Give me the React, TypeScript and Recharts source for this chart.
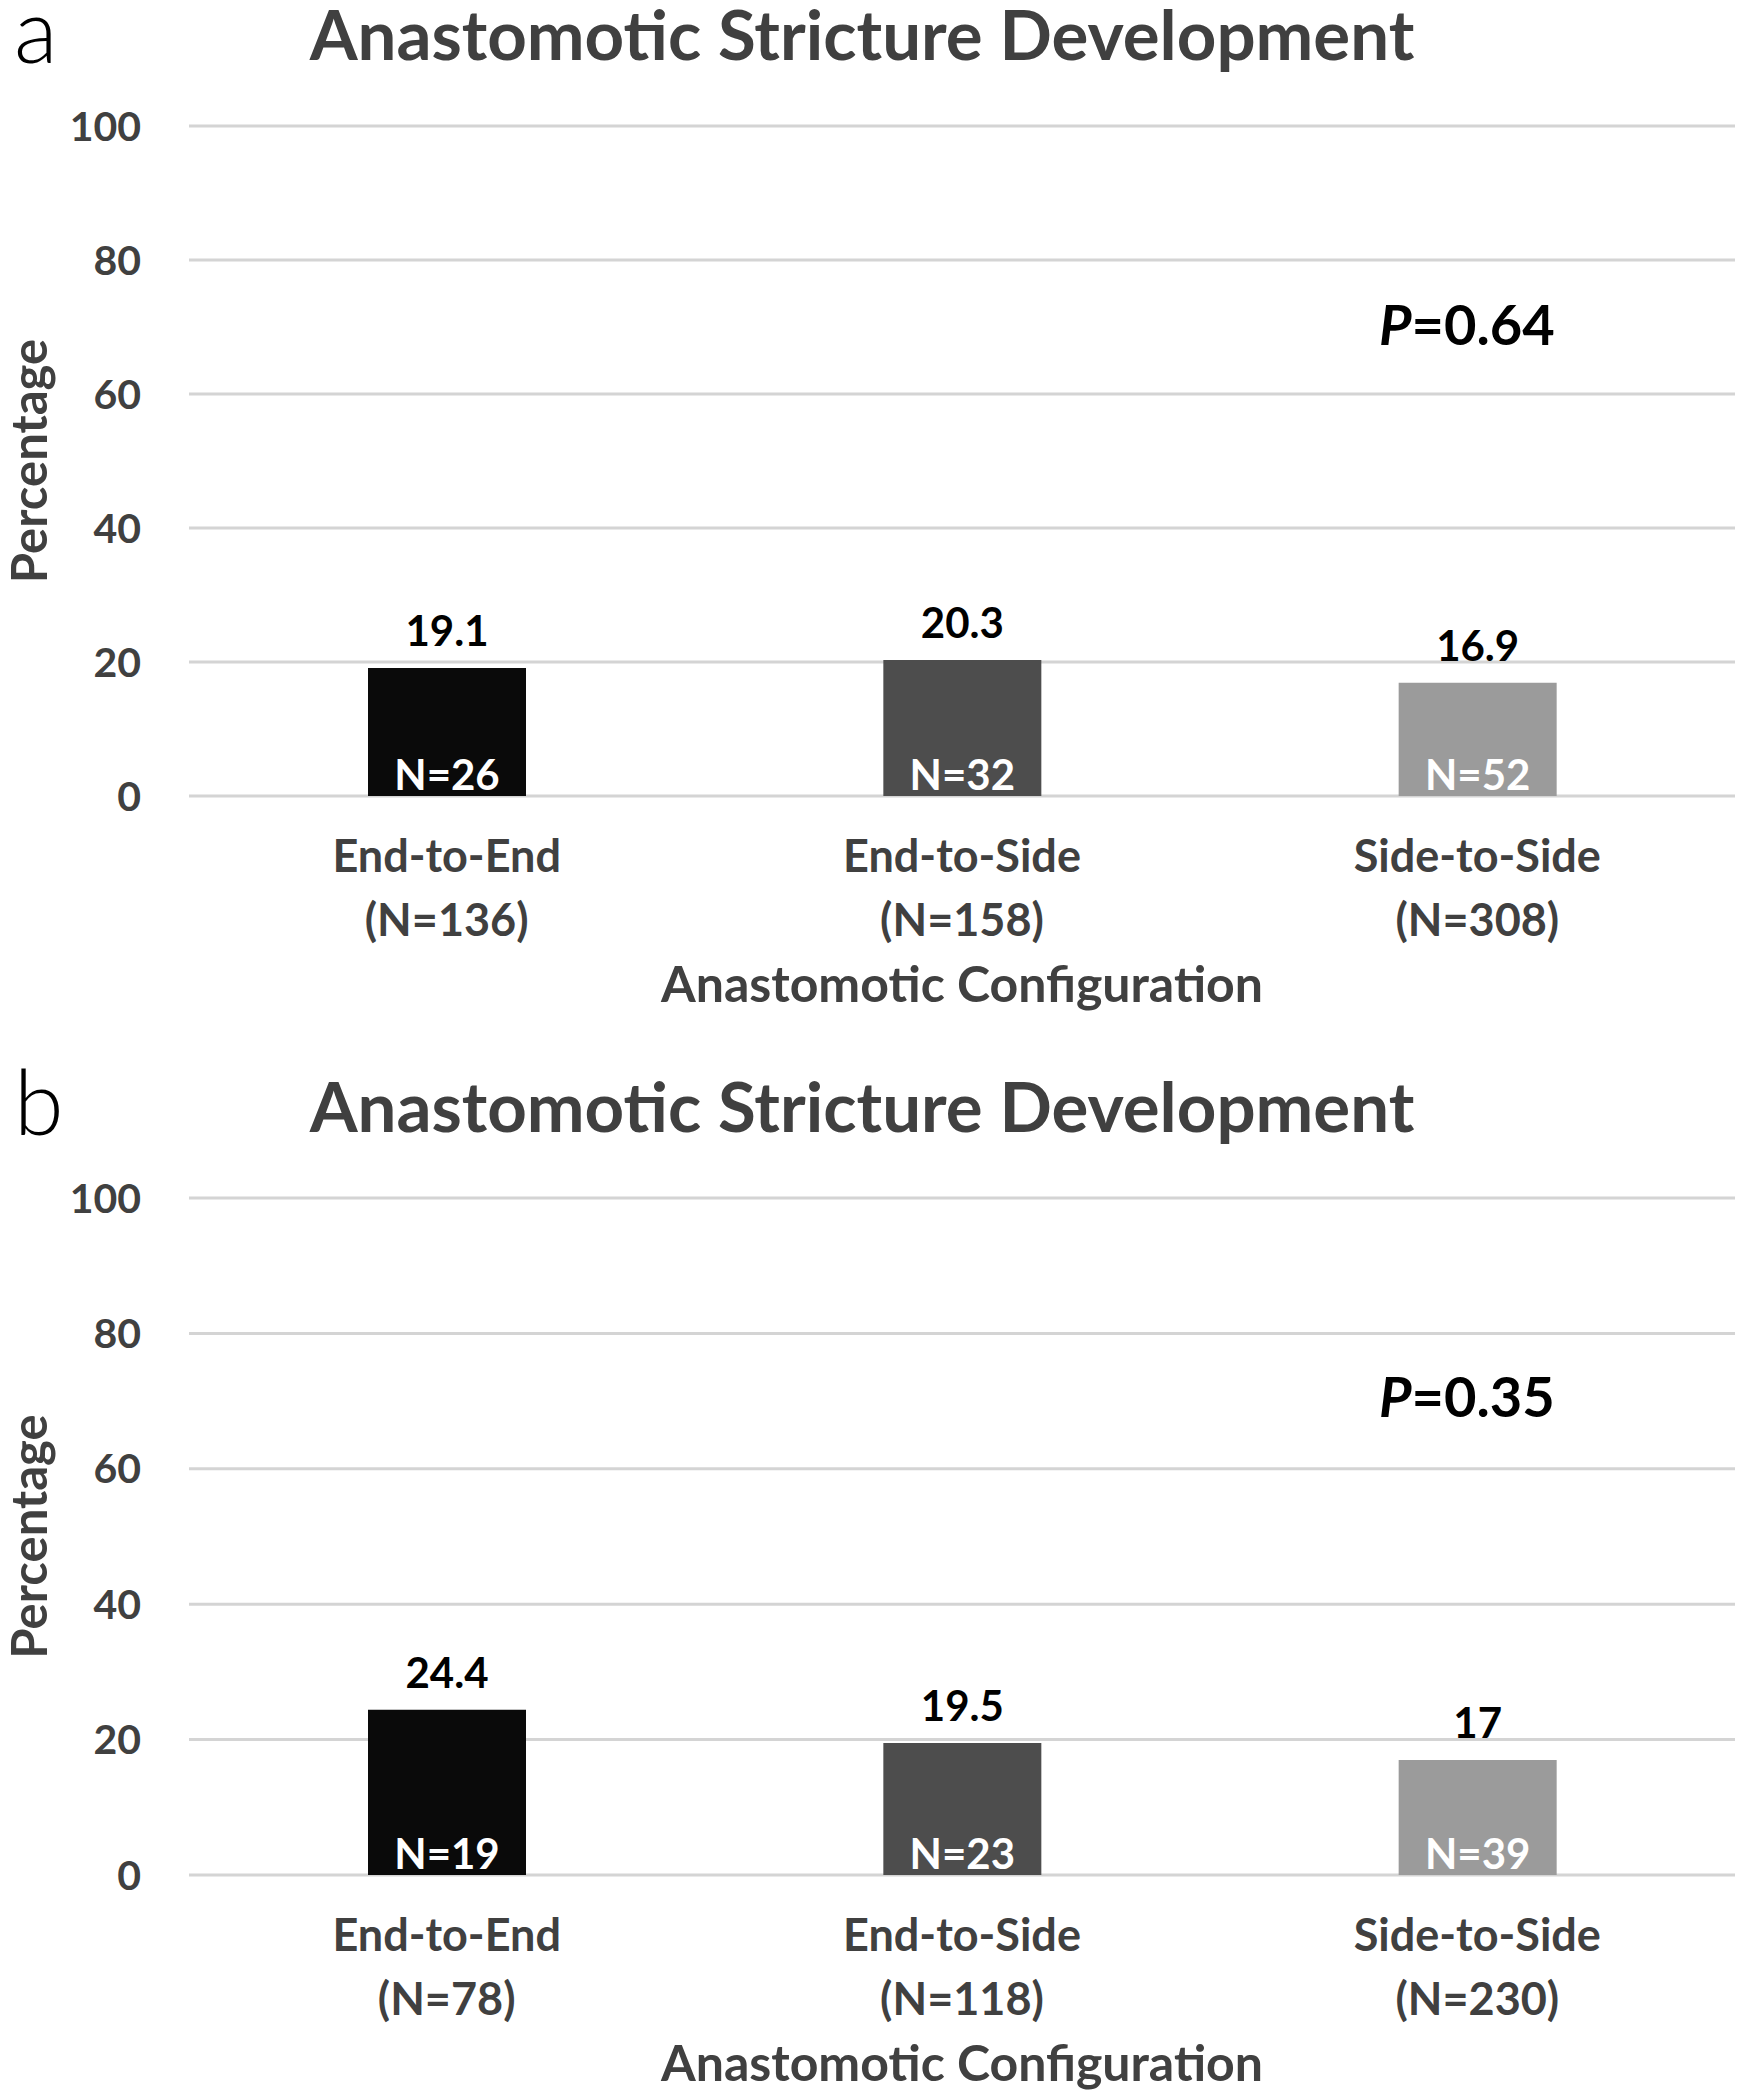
import React from 'react';
import { BarChart, Bar, XAxis, YAxis, CartesianGrid, Cell, LabelList, Label } from 'recharts';

const configurations = ['End-to-End', 'End-to-Side', 'Side-to-Side'];
const barColors = ['#0a0a0a', '#4d4d4d', '#9b9b9b'];
const yTicks = [0, 20, 40, 60, 80, 100];

// panel a
const rateA = [19.1, 20.3, 16.9];
const stricturesA = [26, 32, 52];
const totalsA = [136, 158, 308];
const pValueA = '0.64';

// panel b
const rateB = [24.4, 19.5, 17];
const stricturesB = [19, 23, 39];
const totalsB = [78, 118, 230];
const pValueB = '0.35';

const FONT = 'Lato, "Open Sans", sans-serif';
const W = 1745;
const H = 1073;
const PLOT_TOP = 126;
const HEAD = 30; // extra room above each panel for the overlay text

interface PanelProps {
  letter: string;
  rates: number[];
  strictures: number[];
  totals: number[];
  pValue: string;
  top: number;
  plotHeight: number;
}

const CategoryTick = (props: any) => {
  const { x, y, payload, totals } = props;
  const total = totals[payload.index];
  return (
    <text x={x} y={y} textAnchor="middle" fill="#404040" fontSize={45} fontWeight={700} fontFamily={FONT}>
      <tspan x={x} dy={68}>{payload.value}</tspan>
      <tspan x={x} dy={64}>{`(N=${total})`}</tspan>
    </text>
  );
};

const Panel: React.FC<PanelProps> = ({ letter, rates, strictures, totals, pValue, top, plotHeight }) => {
  const data = configurations.map((name, i) => ({
    name,
    rate: rates[i],
    n: strictures[i],
  }));
  const xAxisHeight = H - PLOT_TOP - plotHeight;

  return (
    <div style={{ position: 'absolute', left: 0, top, width: W, height: H }}>
      <BarChart width={W} height={H} data={data} margin={{ top: PLOT_TOP, right: 10, left: 0, bottom: 0 }}>
        <CartesianGrid vertical={false} stroke="#d4d4d4" strokeWidth={3} />
        <XAxis
          dataKey="name"
          height={xAxisHeight}
          axisLine={false}
          tickLine={false}
          interval={0}
          tick={<CategoryTick totals={totals} />}
        >
          <Label
            value="Anastomotic Configuration"
            position="insideBottom"
            offset={xAxisHeight - 206}
            style={{ fill: '#404040', fontSize: 50, fontWeight: 700, fontFamily: FONT }}
          />
        </XAxis>
        <YAxis
          width={189}
          domain={[0, 100]}
          ticks={yTicks}
          axisLine={false}
          tickLine={false}
          tickMargin={42}
          tick={{ fill: '#404040', fontSize: 41, fontWeight: 700, fontFamily: FONT }}
        >
          <Label
            value="Percentage"
            angle={-90}
            position="insideLeft"
            offset={30}
            style={{ textAnchor: 'middle', fill: '#404040', fontSize: 49, fontWeight: 700, fontFamily: FONT }}
          />
        </YAxis>
        <Bar dataKey="rate" barSize={158} isAnimationActive={false}>
          {data.map((d, i) => (
            <Cell key={d.name} fill={barColors[i]} />
          ))}
          <LabelList
            dataKey="rate"
            position="top"
            offset={22}
            fill="#000"
            fontSize={42}
            fontWeight={700}
            fontFamily={FONT}
          />
          <LabelList
            dataKey="n"
            position="insideBottom"
            offset={6}
            formatter={(v: any) => `N=${v}`}
            fill="#fff"
            fontSize={42}
            fontWeight={700}
            fontFamily={FONT}
          />
        </Bar>
      </BarChart>
      <svg
        width={W}
        height={H}
        style={{ position: 'absolute', left: 0, top: 0, overflow: 'visible', pointerEvents: 'none' }}
      >
        <text x={14} y={63} fontSize={90} fontWeight={300} fontFamily={FONT} fill="#000">
          {letter}
        </text>
        <text x={862} y={60} textAnchor="middle" fontSize={69} fontWeight={700} fontFamily={FONT} fill="#404040">
          Anastomotic Stricture Development
        </text>
        <text x={1379} y={345} fontSize={56} fontWeight={700} fontFamily={FONT} fill="#000">
          <tspan fontStyle="italic">P</tspan>
          <tspan>{`=${pValue}`}</tspan>
        </text>
      </svg>
    </div>
  );
};

export default function App() {
  return (
    <div
      style={{
        position: 'absolute',
        left: 0,
        top: 0,
        width: W,
        height: 2100,
        overflow: 'hidden',
        background: '#fff',
      }}
    >
      <Panel letter="a" rates={rateA} strictures={stricturesA} totals={totalsA} pValue={pValueA} top={0} plotHeight={670} />
      <Panel letter="b" rates={rateB} strictures={stricturesB} totals={totalsB} pValue={pValueB} top={1072} plotHeight={677} />
    </div>
  );
}
